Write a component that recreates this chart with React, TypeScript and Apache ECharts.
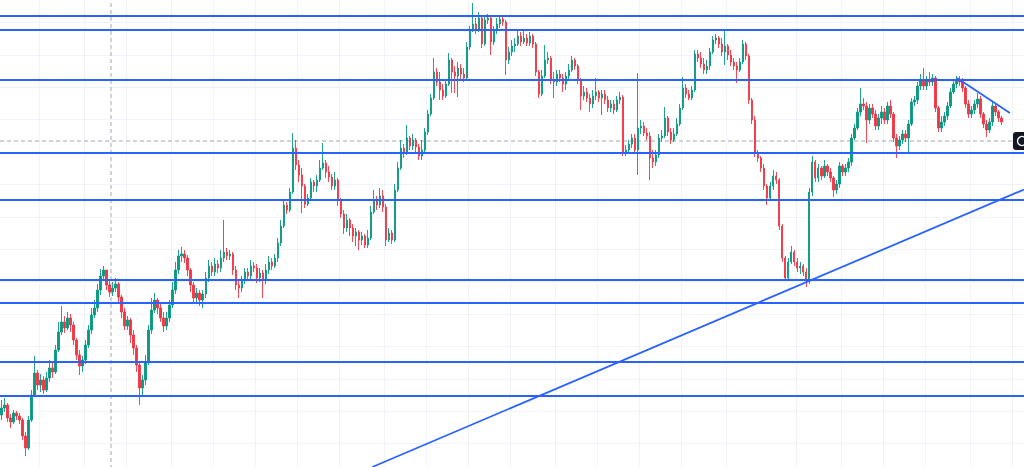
import React, { useEffect, useRef } from "react";
import * as echarts from "echarts";

// Price units: one unit per screen pixel of the reference (arbitrary scale, no labels shown)
const firstOpen = 61;
const closes = [
  68, 71, 58, 54, 63, 60, 56, 40, 28, 56,
  81, 103, 91, 96, 86, 98, 108, 104, 126, 144,
  154, 148, 158, 151, 136, 121, 110, 116, 131, 146,
  161, 168, 186, 200, 206, 191, 184, 188, 192, 179,
  164, 150, 156, 141, 128, 111, 88, 96, 114, 146,
  166, 176, 168, 158, 150, 158, 171, 186, 206, 220,
  222, 218, 206, 191, 178, 183, 176, 182, 198, 210,
  204, 212, 208, 218, 224, 220, 222, 206, 191, 188,
  196, 204, 200, 210, 208, 198, 203, 196, 206, 214,
  210, 218, 233, 250, 271, 266, 284, 328, 311, 301,
  290, 272, 278, 294, 290, 296, 308, 313, 304, 299,
  290, 296, 276, 262, 248, 256, 248, 240, 244, 236,
  240, 231, 238, 264, 276, 271, 280, 269, 236, 243,
  236, 286, 308, 328, 323, 338, 330, 336, 329, 320,
  326, 344, 362, 378, 404, 394, 386, 380, 392, 416,
  404, 400, 408, 402, 398, 429, 446, 452, 446, 458,
  432, 456, 458, 434, 446, 452, 457, 454, 416, 424,
  430, 432, 440, 434, 438, 433, 440, 432, 404, 382,
  400, 416, 418, 396, 394, 402, 398, 392, 400, 406,
  416, 410, 396, 380, 384, 378, 372, 380, 384, 378,
  382, 376, 368, 372, 366, 376, 379, 323, 326, 332,
  338, 326, 348, 350, 343, 340, 318, 314, 321, 338,
  340, 358, 344, 336, 342, 352, 368, 388, 382, 378,
  386, 422, 418, 412, 406, 410, 424, 436, 438, 432,
  424, 430, 421, 414, 410, 406, 414, 432, 420, 376,
  356, 323, 318, 308, 290, 278, 290, 300, 296, 250,
  218, 198, 214, 224, 214, 208, 210, 204, 196, 284,
  314, 298, 308, 300, 310, 304, 298, 286, 292, 310,
  304, 308, 314, 338, 348, 364, 372, 370, 356, 368,
  362, 350, 358, 364, 356, 370, 362, 338, 330, 336,
  342, 338, 352, 374, 376, 390, 396, 390, 396, 394,
  398, 368, 348, 354, 360, 370, 384, 392, 396, 394,
  388, 372, 362, 366, 372, 377, 362, 352, 346, 354,
  370, 364, 358, 354,
];
const highs = [
  76, 78, 73, 62, 66, 65, 63, 58, 44, 60,
  86, 120, 106, 102, 100, 104, 116, 114, 131, 154,
  170, 160, 164, 162, 154, 138, 126, 120, 136, 151,
  168, 176, 192, 207, 210, 204, 196, 194, 198, 194,
  181, 168, 160, 158, 146, 131, 114, 101, 121, 151,
  178, 183, 178, 172, 164, 164, 176, 194, 214, 226,
  229, 226, 221, 208, 194, 188, 186, 186, 204, 216,
  214, 218, 216, 226, 256, 228, 226, 224, 210, 196,
  200, 208, 208, 216, 214, 212, 208, 206, 212, 220,
  218, 222, 238, 256, 276, 274, 288, 343, 336, 316,
  308, 292, 282, 298, 296, 301, 316, 333, 316, 310,
  302, 304, 298, 278, 266, 262, 258, 252, 248, 246,
  244, 242, 246, 270, 286, 280, 288, 286, 272, 248,
  246, 292, 314, 336, 332, 351, 340, 342, 338, 332,
  336, 348, 366, 382, 418, 408, 404, 392, 396, 423,
  418, 410, 414, 412, 408, 434, 450, 473, 458, 464,
  460, 461, 462, 460, 450, 458, 461, 460, 456, 429,
  436, 438, 446, 444, 445, 442, 444, 442, 434, 406,
  406, 431, 424, 420, 404, 406, 406, 402, 404, 412,
  420, 418, 412, 398, 390, 388, 382, 386, 398, 386,
  386, 386, 380, 376, 376, 380, 384, 381, 331, 336,
  342, 342, 403, 356, 354, 348, 344, 326, 326, 342,
  346, 369, 360, 348, 348, 358, 372, 399, 392, 386,
  390, 426, 426, 424, 418, 416, 428, 440, 442, 440,
  438, 446, 432, 426, 418, 414, 418, 436, 434, 422,
  378, 360, 326, 320, 312, 292, 294, 306, 304, 298,
  252, 220, 218, 230, 226, 218, 214, 212, 208, 288,
  320, 316, 312, 310, 316, 312, 308, 300, 296, 314,
  312, 312, 318, 342, 352, 368, 388, 378, 374, 372,
  372, 366, 362, 370, 368, 374, 376, 364, 342, 340,
  346, 346, 356, 378, 380, 394, 402, 408, 400, 404,
  402, 400, 370, 360, 364, 374, 388, 396, 400, 400,
  398, 390, 376, 370, 376, 383, 380, 364, 356, 358,
  374, 372, 366, 360,
];
const lows = [
  56, 64, 54, 48, 52, 56, 52, 36, 20, 26,
  54, 79, 86, 84, 82, 84, 94, 98, 102, 124,
  141, 143, 146, 144, 131, 116, 101, 104, 112, 128,
  142, 158, 164, 181, 196, 186, 179, 180, 184, 174,
  158, 146, 146, 133, 121, 104, 71, 81, 91, 111,
  142, 163, 162, 154, 144, 146, 154, 168, 182, 202,
  214, 213, 200, 184, 173, 174, 170, 168, 178, 194,
  200, 200, 203, 204, 214, 216, 216, 201, 186, 178,
  184, 192, 196, 196, 204, 193, 194, 178, 192, 202,
  206, 208, 214, 230, 248, 262, 264, 282, 306, 294,
  263, 268, 270, 276, 284, 284, 294, 306, 298, 294,
  286, 286, 270, 258, 242, 244, 240, 234, 230, 226,
  231, 228, 228, 236, 262, 266, 268, 264, 230, 234,
  232, 234, 284, 306, 318, 321, 326, 326, 324, 316,
  316, 322, 341, 360, 376, 390, 376, 376, 378, 390,
  383, 383, 379, 396, 394, 396, 426, 444, 442, 444,
  428, 430, 452, 421, 431, 442, 448, 450, 401, 412,
  420, 424, 430, 430, 432, 430, 430, 428, 400, 378,
  380, 398, 412, 392, 378, 390, 394, 384, 386, 396,
  404, 406, 392, 366, 376, 374, 364, 368, 376, 374,
  361, 372, 364, 364, 362, 364, 372, 320, 320, 322,
  328, 322, 301, 342, 340, 336, 296, 308, 310, 318,
  334, 338, 340, 332, 334, 340, 350, 366, 378, 376,
  376, 384, 414, 408, 402, 402, 406, 422, 432, 428,
  420, 411, 416, 410, 406, 393, 404, 412, 416, 372,
  352, 319, 314, 304, 286, 271, 276, 286, 292, 246,
  214, 195, 196, 212, 210, 204, 202, 200, 189, 192,
  280, 294, 294, 296, 298, 300, 294, 279, 282, 288,
  300, 300, 304, 310, 336, 346, 360, 366, 333, 352,
  358, 346, 346, 352, 352, 352, 358, 334, 318, 326,
  332, 334, 323, 350, 370, 372, 386, 386, 386, 390,
  390, 364, 344, 344, 350, 356, 368, 382, 388, 390,
  384, 368, 358, 358, 362, 368, 358, 348, 339, 343,
  350, 360, 354, 351,
];

const totalSlots = 341; // candle slots incl. empty right margin
const levels = [460, 446, 396, 323, 276, 196, 173, 114, 80];
const supportLine = [[124, 9], [341, 286.5]];
const resistanceLine = [[318.7, 398], [336.3, 363]];
const timeGridSlots = [13, 28, 42, 57, 71, 85, 99, 113, 128, 142, 156, 170, 185, 199, 213, 227, 242, 265, 280, 294, 308, 323, 337];
const crosshairSlot = 36.96;
const crosshairPrice = 335;
const priceMin = 0;
const priceMax = 486;
const priceStep = 32.4;

const UP = "#089981";
const DOWN = "#f23645";
const BLUE = "#2962ff";
const GRID = "#f0f3fa";
const CROSS = "#a3a6af";

export default function App() {
  const ref = useRef<HTMLDivElement>(null);
  useEffect(() => {
    const chart = echarts.init(ref.current!, undefined, { renderer: "svg" });
    const categories = Array.from({ length: totalSlots }, (_, i) => String(i));
    const candles = closes.map((c, i) => {
      const o = i === 0 ? firstOpen : closes[i - 1];
      return [o, c, Math.min(lows[i], o, c), Math.max(highs[i], o, c)];
    });
    const gridSet = new Set(timeGridSlots);
    const dashed = { color: CROSS, width: 1, type: [4, 3] as number[] };
    chart.setOption({
      animation: false,
      backgroundColor: "#ffffff",
      grid: { left: 0, right: 0, top: 0, bottom: 0, containLabel: false },
      xAxis: [
        {
          type: "category",
          data: categories,
          boundaryGap: true,
          axisLine: { show: false },
          axisTick: { show: false },
          axisLabel: { show: false },
          splitLine: {
            show: true,
            interval: (idx: number) => gridSet.has(idx),
            lineStyle: { color: GRID, width: 1 },
          },
        },
        { type: "value", min: 0, max: totalSlots, show: false },
      ],
      yAxis: {
        type: "value",
        min: priceMin,
        max: priceMax,
        interval: priceStep,
        axisLine: { show: false },
        axisTick: { show: false },
        axisLabel: { show: false },
        splitLine: { show: true, lineStyle: { color: GRID, width: 1 } },
      },
      series: [
        {
          type: "line",
          xAxisIndex: 1,
          data: [[crosshairSlot, priceMin], [crosshairSlot, priceMax]],
          symbol: "none",
          silent: true,
          lineStyle: dashed,
          z: 1,
        },
        {
          type: "line",
          xAxisIndex: 1,
          data: [[0, crosshairPrice], [337, crosshairPrice]],
          symbol: "none",
          silent: true,
          lineStyle: dashed,
          z: 1,
        },
        {
          type: "candlestick",
          data: candles,
          barWidth: 1.9,
          itemStyle: {
            color: UP,
            color0: DOWN,
            borderColor: UP,
            borderColor0: DOWN,
            borderWidth: 0.9,
          },
          z: 2,
          markLine: {
            silent: true,
            symbol: ["none", "none"],
            label: { show: false },
            lineStyle: { color: BLUE, width: 2, type: "solid" },
            data: levels.map((v) => ({ yAxis: v })),
          },
        },
        {
          type: "line",
          xAxisIndex: 1,
          data: supportLine,
          symbol: "none",
          silent: true,
          lineStyle: { color: BLUE, width: 1.8 },
          z: 5,
        },
        {
          type: "line",
          xAxisIndex: 1,
          data: resistanceLine,
          symbol: "none",
          silent: true,
          lineStyle: { color: BLUE, width: 1.8 },
          z: 5,
        },
      ],
    });
    const py = chart.convertToPixel({ yAxisIndex: 0 }, crosshairPrice) as number;
    chart.setOption({
      graphic: [
        {
          type: "rect",
          shape: { x: 1013, y: py - 9, width: 26, height: 18, r: 3 },
          style: { fill: "#131722" },
          z: 100,
        },
        {
          type: "circle",
          shape: { cx: 1022, cy: py, r: 4.5 },
          style: { fill: "none", stroke: "#ffffff", lineWidth: 1.3 },
          z: 101,
        },
      ],
    });
    return () => chart.dispose();
  }, []);
  return (
    <div
      ref={ref}
      style={{ position: "fixed", left: 0, top: -10, width: 1024, height: 486, background: "#ffffff" }}
    />
  );
}
